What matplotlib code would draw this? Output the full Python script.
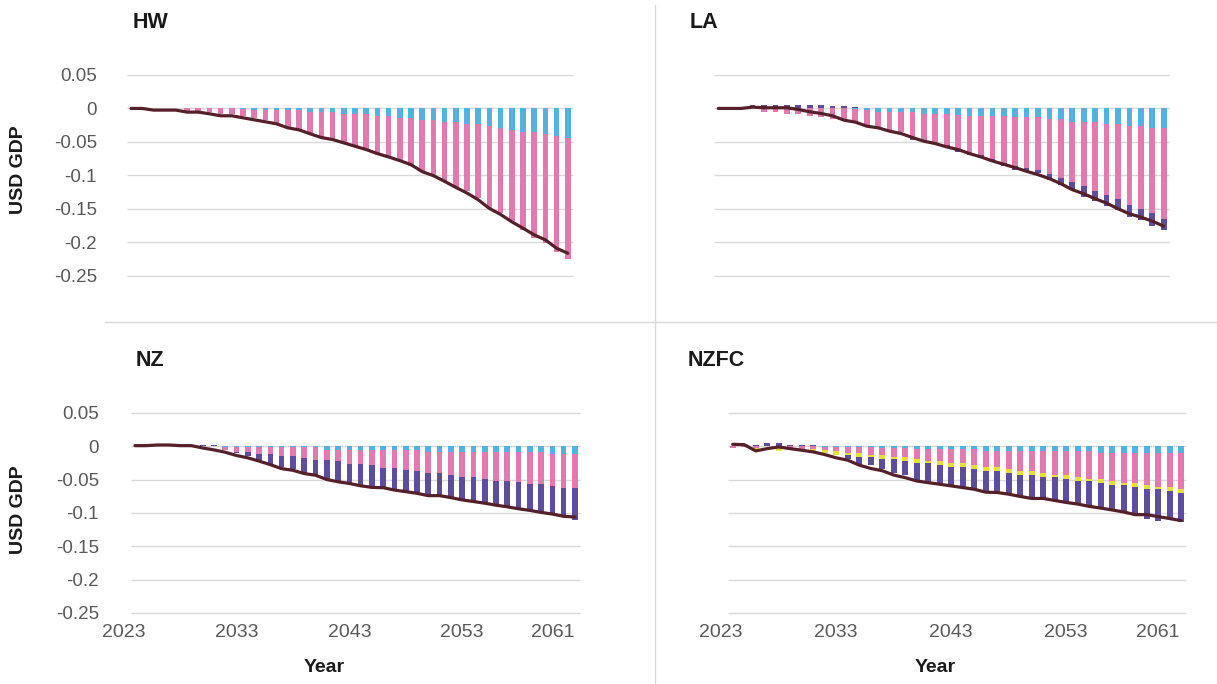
import numpy as np
import matplotlib
matplotlib.use("Agg")
import matplotlib.pyplot as plt
from matplotlib.lines import Line2D

plt.rcParams['font.family'] = ['Liberation Sans', 'DejaVu Sans']

years = list(range(2024, 2064))
tick_years = [2023, 2033, 2043, 2053, 2061]
y_ticks = [0.05, 0, -0.05, -0.1, -0.15, -0.2, -0.25]
y_tick_labels = ['0.05', '0', '-0.05', '-0.1', '-0.15', '-0.2', '-0.25']

# ---------------- HW ----------------
hw_blue = [0]*10 + [-0.001, -0.003, -0.003, -0.003, -0.003, -0.003, -0.0055, -0.0055, -0.0055, -0.008,
                   -0.008, -0.008, -0.0115, -0.0115, -0.014, -0.014, -0.0175, -0.0175, -0.02, -0.02,
                   -0.023, -0.023, -0.026, -0.029, -0.0315, -0.0345, -0.0345, -0.0375, -0.0405, -0.0435]
hw_pink = [0]*5 + [-0.004, -0.004, -0.0055, -0.008, -0.009, -0.0105, -0.011, -0.0145, -0.0185, -0.026,
                  -0.0285, -0.032, -0.039, -0.041, -0.0425, -0.0495, -0.0545, -0.0575, -0.063, -0.065,
                  -0.0715, -0.0765, -0.0815, -0.089, -0.098, -0.101, -0.111, -0.124, -0.1275, -0.1375,
                  -0.147, -0.1595, -0.164, -0.1735, -0.182]
hw_line = [0, 0, -0.0025, -0.0025, -0.0025, -0.0055, -0.0055, -0.008, -0.011, -0.011,
           -0.014, -0.017, -0.02, -0.023, -0.029, -0.032, -0.038, -0.0435, -0.0465, -0.0515,
           -0.0565, -0.0615, -0.0675, -0.0725, -0.078, -0.084, -0.0945, -0.1005, -0.109, -0.118,
           -0.1265, -0.1365, -0.1495, -0.1585, -0.1695, -0.179, -0.189, -0.1965, -0.209, -0.2165]

# ---------------- LA ----------------
la_blue = [0]*12 + [-0.0015, -0.0025, -0.005, -0.005, -0.005, -0.005, -0.0085, -0.0085, -0.0085, -0.01,
                   -0.0115, -0.0115, -0.0115, -0.0115, -0.0135, -0.0135, -0.0135, -0.0165, -0.0165, -0.02,
                   -0.02, -0.02, -0.0235, -0.0235, -0.0265, -0.0265, -0.029, -0.029]
la_pink = [0]*4 + [-0.005, -0.005, -0.0085, -0.0085, -0.011, -0.0135, -0.0165, -0.0175, -0.0185, -0.024,
                  -0.025, -0.0285, -0.03, -0.0375, -0.038, -0.043, -0.0465, -0.0515, -0.055, -0.0585,
                  -0.0635, -0.07, -0.073, -0.076, -0.078, -0.081, -0.087, -0.0896, -0.0957, -0.104,
                  -0.1055, -0.1125, -0.1175, -0.124, -0.127, -0.1356]
la_purple = [0, 0, 0, 0.005, 0.005, 0.005, 0.005, 0.005, 0.005, 0.005,
             0.003, 0.003, 0.002, 0, 0, 0, 0, -0.004, -0.0035, -0.002,
             -0.0025, -0.0035, -0.0035, -0.0035, -0.0035, -0.005, -0.005, -0.005, -0.005, -0.009,
             -0.011, -0.013, -0.0163, -0.015, -0.017, -0.016, -0.018, -0.0165, -0.02, -0.0174]
la_line = [0, 0, 0, 0.002, 0.001, 0.001, 0.001, -0.0015, -0.005, -0.0075,
           -0.011, -0.0175, -0.0205, -0.0265, -0.029, -0.034, -0.0375, -0.0435, -0.049, -0.0525,
           -0.0575, -0.0615, -0.0675, -0.0725, -0.0785, -0.0835, -0.0885, -0.094, -0.099, -0.105,
           -0.1125, -0.1215, -0.1275, -0.135, -0.1415, -0.15, -0.1575, -0.1625, -0.1685, -0.176]

# ---------------- NZ ----------------
nz_blue = [0]*8 + [-0.0015]*9 + [-0.0054]*9 + [-0.0089]*11 + [-0.0113]*3
nz_pink = [0]*8 + [-0.004, -0.0074, -0.0074, -0.0099, -0.0099, -0.0123, -0.0123, -0.0158, -0.0187, -0.0148,
                  -0.0173, -0.0207, -0.0207, -0.0232, -0.0266, -0.0266, -0.0296, -0.032, -0.0311, -0.0311,
                  -0.0345, -0.037, -0.037, -0.0394, -0.0429, -0.0429, -0.0453, -0.0483, -0.0483, -0.0483,
                  -0.0518, -0.0518]
nz_purple = [0, 0, 0, 0, 0, 0.002, 0.002, 0.002, 0, -0.0015,
             -0.0049, -0.0099, -0.0148, -0.0173, -0.0197, -0.0227, -0.0232, -0.0281, -0.0306, -0.0296,
             -0.032, -0.032, -0.0286, -0.0325, -0.033, -0.033, -0.033, -0.033, -0.0335, -0.0345,
             -0.037, -0.037, -0.0365, -0.0394, -0.0394, -0.039, -0.0429, -0.0429, -0.0419, -0.0468]
nz_line = [0.001, 0.001, 0.002, 0.002, 0.001, 0.001, -0.0025, -0.0054, -0.0089, -0.0138,
           -0.0173, -0.0222, -0.0276, -0.0335, -0.036, -0.0409, -0.0434, -0.0498, -0.0532, -0.0557,
           -0.0592, -0.0616, -0.0621, -0.0656, -0.068, -0.0705, -0.074, -0.074, -0.0769, -0.0804,
           -0.0828, -0.0853, -0.0883, -0.0907, -0.0937, -0.0961, -0.0991, -0.1016, -0.105, -0.106]

# ---------------- NZFC ----------------
nzfc_blue = [0]*8 + [-0.0015]*5 + [-0.0025]*3 + [-0.0035]*2 + [-0.0045]*4 + [-0.0069]*10 + [-0.0099]*8
nzfc_pink = [-0.0025, -0.001, -0.0025, 0, -0.0025, -0.0025, -0.0035, -0.0035, -0.0045, -0.0054,
             -0.0079, -0.0079, -0.011, -0.0099, -0.0134, -0.0134, -0.0158, -0.0188, -0.0178, -0.0203,
             -0.0203, -0.0238, -0.0238, -0.0238, -0.0277, -0.0302, -0.0302, -0.0337, -0.0361, -0.0361,
             -0.0396, -0.0421, -0.0391, -0.0421, -0.0446, -0.0446, -0.048, -0.0515, -0.0515, -0.0545]
nzfc_yellow = [0, 0, -0.0045, 0, -0.0045, -0.002, -0.0035, -0.0035, -0.0035, -0.0054,
               -0.003, -0.0064, -0.0035, -0.0059, -0.0035, -0.0064, -0.0054, -0.0025, -0.0059, -0.0059,
               -0.0059, -0.0059, -0.0064, -0.0064, -0.0059, -0.0059, -0.0059, -0.0059, -0.0035, -0.0059,
               -0.0054, -0.003, -0.0064, -0.0059, -0.0035, -0.0069, -0.0064, -0.003, -0.0054, -0.0059]
nzfc_purple = [0, 0, 0.0025, 0.0054, 0.0054, 0.0025, 0.0025, 0.0025, 0, 0,
               -0.0069, -0.0114, -0.0124, -0.0158, -0.0213, -0.0208, -0.0257, -0.0282, -0.0272, -0.0287,
               -0.0312, -0.0302, -0.0307, -0.0307, -0.0312, -0.0322, -0.0351, -0.0337, -0.0362, -0.0361,
               -0.0356, -0.0381, -0.0371, -0.0381, -0.0406, -0.0411, -0.0441, -0.047, -0.0406, -0.0431]
nzfc_line = [0.003, 0.0025, -0.0069, -0.0035, -0.001, -0.0035, -0.0059, -0.0084, -0.0124, -0.0173,
             -0.0208, -0.0282, -0.0332, -0.0366, -0.0431, -0.047, -0.052, -0.0545, -0.0569, -0.0594,
             -0.0619, -0.0644, -0.0688, -0.0693, -0.0718, -0.0752, -0.0782, -0.0782, -0.0812, -0.0842,
             -0.0866, -0.0901, -0.0926, -0.0955, -0.0985, -0.1025, -0.1025, -0.1054, -0.1084, -0.1114]

C_BLUE = '#56B1E3'
C_PINK = '#E27AAF'
C_YELLOW = '#E4E036'
C_PURPLE = '#5E4C9D'
C_LINE = '#55202A'
C_GRID = '#D9D9D9'
C_TICK = '#595959'

W, H = 1217, 684
fig = plt.figure(figsize=(W/100, H/100), dpi=100)


def make_ax(left_px, right_px, top_px, bottom_px):
    return fig.add_axes([left_px / W, 1 - bottom_px / H, (right_px - left_px) / W, (bottom_px - top_px) / H])


def draw(ax, comps, line, show_y, show_x, ypad):
    x = np.array(years, dtype=float)
    pos = np.zeros(len(x))
    neg = np.zeros(len(x))
    for vals, col in comps:
        v = np.array(vals, dtype=float)
        bottom = np.where(v >= 0, pos, neg)
        ax.bar(x, v, width=0.5, bottom=bottom, color=col, linewidth=0, zorder=2)
        pos += np.clip(v, 0, None)
        neg += np.clip(v, None, 0)
    ax.plot(x, line, color=C_LINE, lw=2.3, zorder=3, solid_capstyle='round')
    ax.hlines(y_ticks, 2023.6, 2063.45, color=C_GRID, lw=1.0, zorder=0)
    ax.set_xlim(2022.5, 2063.6)
    ax.set_ylim(-0.265, 0.06)
    for s in ax.spines.values():
        s.set_visible(False)
    ax.set_yticks(y_ticks)
    if show_y:
        ax.set_yticklabels(y_tick_labels)
    else:
        ax.set_yticklabels([])
    ax.tick_params(axis='y', length=0, pad=ypad, labelsize=13.5, labelcolor=C_TICK)
    if show_x:
        ax.set_xticks(tick_years)
        ax.set_xticklabels([str(t) for t in tick_years])
    else:
        ax.set_xticks([])
    ax.tick_params(axis='x', length=0, pad=1, labelsize=14, labelcolor=C_TICK)
    ax.patch.set_alpha(0)


ax_hw = make_ax(114.2, 574.5, 68.3, 285.7)
draw(ax_hw, [(hw_blue, C_BLUE), (hw_pink, C_PINK)], hw_line, True, False, 12.4)

ax_la = make_ax(701.2, 1170.5, 68.3, 285.7)
draw(ax_la, [(la_blue, C_BLUE), (la_pink, C_PINK), (la_purple, C_PURPLE)], la_line, False, False, 12)

ax_nz = make_ax(118.1, 581.7, 406.3, 623)
draw(ax_nz, [(nz_blue, C_BLUE), (nz_pink, C_PINK), (nz_purple, C_PURPLE)], nz_line, True, True, 13.9)

ax_nzfc = make_ax(715.45, 1188.1, 406.3, 623)
draw(ax_nzfc, [(nzfc_blue, C_BLUE), (nzfc_pink, C_PINK), (nzfc_yellow, C_YELLOW), (nzfc_purple, C_PURPLE)],
     nzfc_line, False, True, 12)

# separators
fig.add_artist(Line2D([655 / W, 655 / W], [1 - 5 / H, 0], color=C_GRID, lw=1.0))
fig.add_artist(Line2D([105 / W, 1.0], [1 - 322 / H, 1 - 322 / H], color=C_GRID, lw=1.0))

# titles
tkw = dict(fontsize=15.5, fontweight='bold', color='#1a1a1a', va='center', ha='left')
fig.text(133 / W, 1 - 22 / H, 'HW', **tkw)
fig.text(690 / W, 1 - 22 / H, 'LA', **tkw)
fig.text(136 / W, 1 - 361 / H, 'NZ', **tkw)
fig.text(688 / W, 1 - 361 / H, 'NZFC', **tkw)

lkw = dict(fontsize=14, fontweight='bold', color='#1a1a1a', va='center', ha='center')
fig.text(19 / W, 1 - 170 / H, 'USD GDP', rotation=90, **lkw)
fig.text(19 / W, 1 - 510 / H, 'USD GDP', rotation=90, **lkw)
fig.text(324 / W, 1 - 668 / H, 'Year', **lkw)
fig.text(935 / W, 1 - 668 / H, 'Year', **lkw)

fig.savefig('out.png', dpi=100)
